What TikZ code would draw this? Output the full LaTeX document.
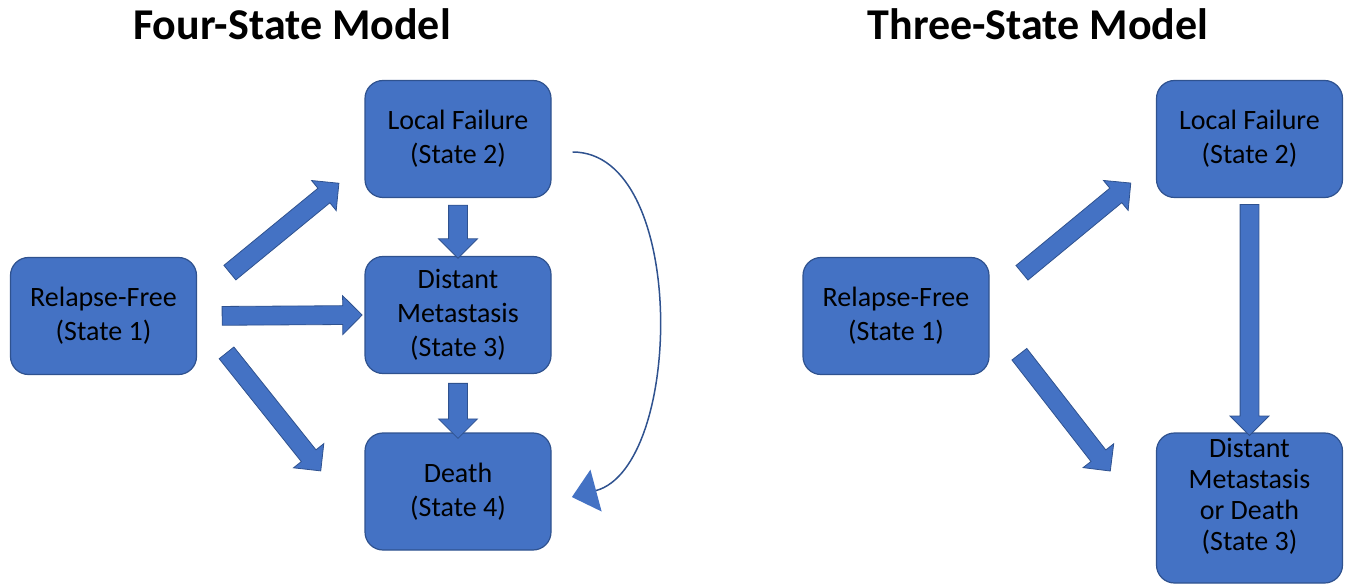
\documentclass[tikz,border=0pt]{standalone}
\usepackage{fontspec}
\setmainfont{Carlito}
\usetikzlibrary{shapes.arrows,arrows.meta}

\definecolor{boxblue}{HTML}{4472C4}
\definecolor{boxedge}{HTML}{2F528F}

\tikzset{
    state/.style={draw=boxedge, line width=1.2pt, fill=boxblue, rounded corners=18pt,
        minimum width=186pt, minimum height=117pt, align=center, text=black,
        font=\fontsize{28}{34}\selectfont},
    fat/.style={single arrow, draw=boxedge, line width=0.8pt, fill=boxblue,
        inner sep=0pt, text height=9pt, text depth=9pt,
        single arrow head extend=10pt, single arrow tip angle=90,
        sloped, allow upside down, minimum height=#1},
    title/.style={font=\fontsize{44}{52}\selectfont\bfseries, anchor=base},
}

\begin{document}
\begin{tikzpicture}[x=1pt, y=-1pt]
    \useasboundingbox (0,0) rectangle (1349,585);

    % four-state model
    \node[title] (t4) at (292,40) {Four-State Model};
    \node[state] (rf1) at (103.5,316) {Relapse-Free\\(State 1)};
    \node[state] (lf1) at (458,139) {Local Failure\\(State 2)};
    \node[state] (dm1) at (458,315) {Distant\\Metastasis\\(State 3)};
    \node[state] (de1) at (458,491.5) {Death\\(State 4)};

    \path (rf1.10) -- node[fat=141pt] {} (lf1.194);
    \path (rf1.east) -- node[fat=140pt, pos=0.54] {} (dm1.west);
    \path (rf1.east) -- node[fat=151pt, pos=0.44] {} (de1.200);
    \path (lf1.south) -- node[fat=53pt] {} (dm1.north);
    \path (dm1.south) -- node[fat=55pt, pos=0.55] {} (de1.north);
    \draw[boxedge, line width=1.5pt, shorten <=21pt, shorten >=21pt,
        -{Triangle[length=25pt, width=43pt, color=boxblue]}]
        ([yshift=-13pt]lf1.east) to[out=0, in=15] ([yshift=-11pt]de1.east);

    % three-state model
    \node[title] (t3) at (1038,40) {Three-State Model};
    \node[state] (rf2) at (896,316) {Relapse-Free\\(State 1)};
    \node[state] (lf2) at (1249.5,139) {Local Failure\\(State 2)};
    \node[state, minimum height=150pt, text depth=28pt,
        font=\fontsize{28}{31}\selectfont] (dm2) at (1249.5,508)
        {Distant\\Metastasis\\or Death\\(State 3)};

    \path (rf2.10) -- node[fat=141pt] {} (lf2.194);
    \path (rf2.east) -- node[fat=148pt, pos=0.435] {} (dm2.193);
    \path (lf2.south) -- node[fat=231pt] {} (dm2.north);
\end{tikzpicture}
\end{document}
